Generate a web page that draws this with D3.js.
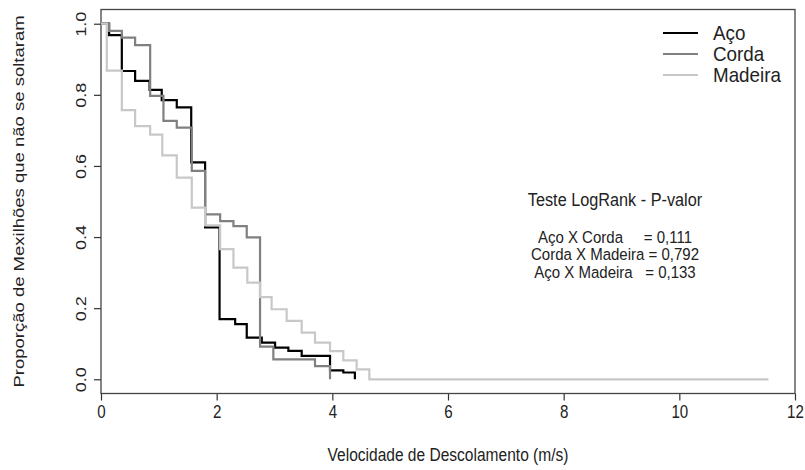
<!DOCTYPE html>
<html>
<head>
<meta charset="utf-8">
<script src="https://cdn.jsdelivr.net/npm/d3@7"></script>
<style>
  body { margin: 0; background: #fff; }
  text { font-family: "Liberation Sans", Arial, sans-serif; fill: #222; }
</style>
</head>
<body>
<svg id="chart" width="805" height="470"></svg>
<script>
// Kaplan–Meier estimates: event velocities (m/s) and survival after each event
const acoTimes = [0, 0.14, 0.36, 0.59, 0.84, 1.05, 1.31, 1.56, 1.80, 2.05, 2.32, 2.52, 2.78, 3.01, 3.24, 3.47, 3.96, 4.19, 4.39];
const acoSurv  = [1, 0.968, 0.867, 0.839, 0.814, 0.785, 0.765, 0.610, 0.427, 0.169, 0.155, 0.117, 0.103, 0.089, 0.080, 0.066, 0.025, 0.019, 0];
const acoEnd = 4.39;

const cordaTimes = [0, 0.14, 0.36, 0.59, 0.85, 1.08, 1.31, 1.57, 1.80, 2.06, 2.29, 2.52, 2.75, 2.98, 3.70, 3.96];
const cordaSurv  = [1, 0.980, 0.961, 0.940, 0.797, 0.727, 0.708, 0.586, 0.464, 0.445, 0.431, 0.399, 0.092, 0.056, 0.037, 0];
const cordaEnd = 3.96;

const madeiraTimes = [0, 0.10, 0.36, 0.59, 0.85, 1.06, 1.31, 1.57, 1.80, 2.06, 2.29, 2.53, 2.75, 2.95, 3.21, 3.47, 3.70, 3.96, 4.19, 4.42, 4.64];
const madeiraSurv  = [1, 0.868, 0.757, 0.712, 0.688, 0.630, 0.567, 0.483, 0.433, 0.366, 0.314, 0.272, 0.231, 0.197, 0.164, 0.131, 0.103, 0.079, 0.053, 0.028, 0];
const madeiraEnd = 11.54;

const seriesNames = ["Aço", "Corda", "Madeira"];
const seriesColors = ["#000000", "#808080", "#c8c8c8"];

const xTicks = [0, 2, 4, 6, 8, 10, 12];
const yTicks = [0, 0.2, 0.4, 0.6, 0.8, 1.0];

const testTitle = "Teste LogRank - P-valor";
const testLines = ["Aço X Corda     = 0,111", "Corda X Madeira = 0,792", "Aço X Madeira   = 0,133"];

const xTitle = "Velocidade de Descolamento (m/s)";
const yTitle = "Proporção de Mexilhões que não se soltaram";

// ---- layout ----
const svg = d3.select("#chart");
const plotL = 101, plotR = 795, plotT = 9.5, plotB = 393.5;
const sx = 0.84; // horizontal squeeze applied to axis lettering

const x = d3.scaleLinear().domain([0, 12]).range([plotL, plotR]);
const y = d3.scaleLinear().domain([-0.04, 1.04]).range([plotB, plotT]);

const fmtY = d3.format(".1f");

// x axis
const gx = svg.append("g")
  .attr("transform", `translate(0,${plotB})`)
  .call(d3.axisBottom(x).tickValues(xTicks).tickSize(7).tickPadding(5).tickFormat(d3.format("d")));
gx.select(".domain").remove();
gx.selectAll(".tick line").attr("stroke", "#333").attr("stroke-width", 1.2);
gx.selectAll(".tick text")
  .attr("font-size", 18).attr("fill", "#222")
  .attr("font-family", "Liberation Sans, Arial, sans-serif")
  .attr("transform", `scale(${sx},1)`);

// y axis
const gy = svg.append("g")
  .attr("transform", `translate(${plotL},0)`)
  .call(d3.axisLeft(y).tickValues(yTicks).tickSize(7).tickFormat(fmtY));
gy.select(".domain").remove();
gy.selectAll(".tick line").attr("stroke", "#333").attr("stroke-width", 1.2);
gy.selectAll(".tick text")
  .attr("font-size", 18).attr("fill", "#222")
  .attr("font-family", "Liberation Sans, Arial, sans-serif")
  .attr("text-anchor", "middle")
  .attr("x", null).attr("dy", null)
  .attr("y", 0)
  .attr("transform", `translate(-15,0) scale(${sx},1) rotate(-90)`);

// plot frame
svg.append("rect")
  .attr("x", plotL).attr("y", plotT)
  .attr("width", plotR - plotL).attr("height", plotB - plotT)
  .attr("fill", "none").attr("stroke", "#444").attr("stroke-width", 1.3);

// survival step curves
const line = d3.line()
  .x(d => x(d[0]))
  .y(d => y(d[1]))
  .curve(d3.curveStepAfter);

function stepPoints(times, surv, end) {
  const pts = times.map((t, i) => [t, surv[i]]);
  pts.push([end, surv[surv.length - 1]]);
  return pts;
}

const curves = [
  stepPoints(acoTimes, acoSurv, acoEnd),
  stepPoints(cordaTimes, cordaSurv, cordaEnd),
  stepPoints(madeiraTimes, madeiraSurv, madeiraEnd)
];

svg.append("g").selectAll("path")
  .data(curves)
  .join("path")
  .attr("d", line)
  .attr("fill", "none")
  .attr("stroke", (d, i) => seriesColors[i])
  .attr("stroke-width", 2.2);

// legend
const legend = svg.append("g");
seriesNames.forEach((name, i) => {
  const ly = 33 + i * 21;
  legend.append("line")
    .attr("x1", 663).attr("x2", 698)
    .attr("y1", ly).attr("y2", ly)
    .attr("stroke", seriesColors[i]).attr("stroke-width", 2.2);
  legend.append("text")
    .attr("transform", `translate(713,${ly + 6.5}) scale(0.94,1)`)
    .attr("font-size", 20)
    .text(name);
});

// log-rank test annotation
svg.append("text")
  .attr("transform", `translate(615,206) scale(0.93,1)`)
  .attr("text-anchor", "middle")
  .attr("font-size", 17.5)
  .text(testTitle);

testLines.forEach((s, i) => {
  svg.append("text")
    .attr("transform", `translate(615,${242.5 + i * 17.7}) scale(0.91,1)`)
    .attr("text-anchor", "middle")
    .attr("font-size", 16.5)
    .style("white-space", "pre")
    .attr("xml:space", "preserve")
    .text(s);
});

// axis titles
svg.append("text")
  .attr("transform", `translate(${(plotL + plotR) / 2},461) scale(${sx},1)`)
  .attr("text-anchor", "middle")
  .attr("font-size", 18.5)
  .text(xTitle);

svg.append("text")
  .attr("transform", `translate(24,${(plotT + plotB) / 2}) scale(${sx},1) rotate(-90)`)
  .attr("text-anchor", "middle")
  .attr("font-size", 18.5)
  .text(yTitle);
</script>
</body>
</html>
